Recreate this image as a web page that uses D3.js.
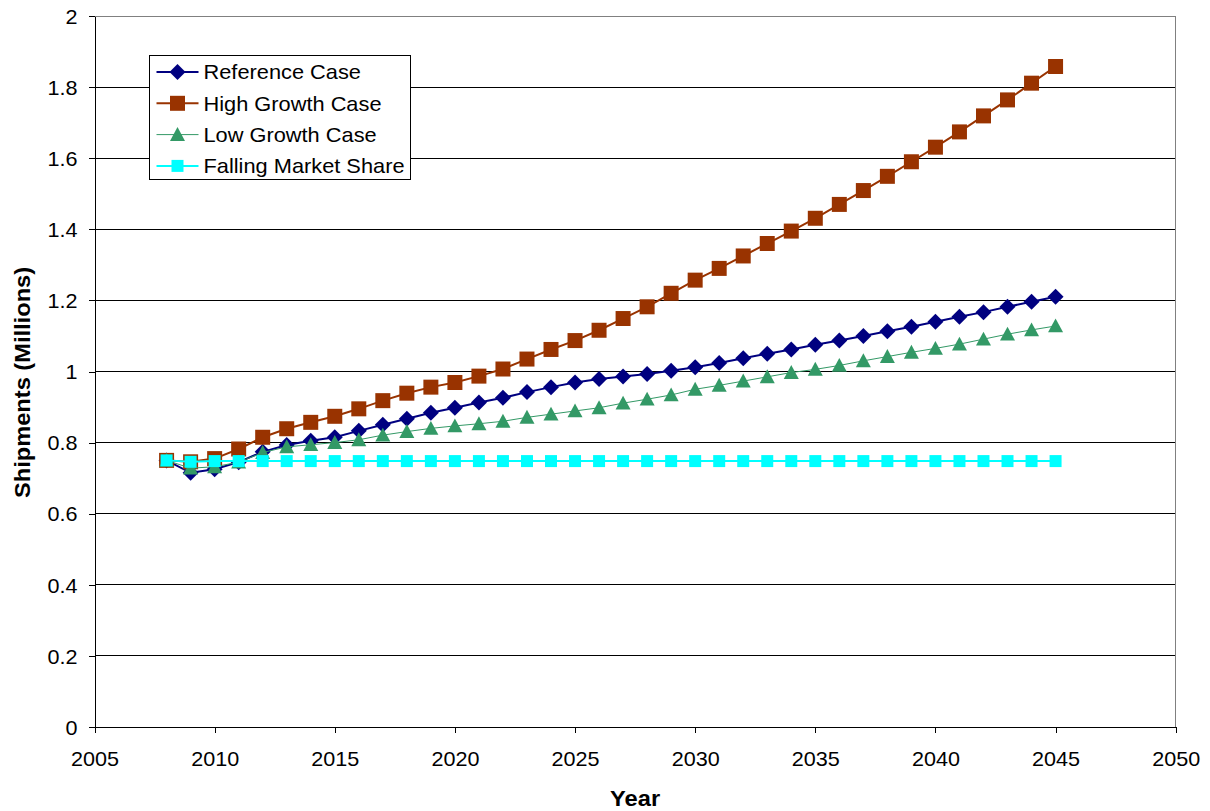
<!DOCTYPE html>
<html>
<head>
<meta charset="utf-8">
<script src="https://cdn.jsdelivr.net/npm/d3@7"></script>
<style>
  body { margin: 0; background: #fff; }
  text { font-family: "Liberation Sans", Arial, sans-serif; }
</style>
</head>
<body>
<script>
var svgWidth = 1210;
var svgHeight = 811;

var margin = { top: 16, right: 34, bottom: 84, left: 94.5 };
var width = 1175.7 - margin.left;
var height = 727 - margin.top;

// data
var years = d3.range(2008, 2046);
var referenceCase = [0.750, 0.715, 0.725, 0.745, 0.774, 0.793, 0.805, 0.815, 0.833, 0.850,
  0.867, 0.884, 0.898, 0.913, 0.926, 0.942, 0.956, 0.969, 0.979, 0.986,
  0.993, 1.002, 1.012, 1.024, 1.037, 1.050, 1.062, 1.075, 1.087, 1.100,
  1.113, 1.126, 1.140, 1.154, 1.167, 1.182, 1.196, 1.210];
var highGrowth = [0.750, 0.746, 0.755, 0.782, 0.815, 0.839, 0.857, 0.874, 0.895, 0.918,
  0.939, 0.956, 0.969, 0.987, 1.007, 1.035, 1.062, 1.087, 1.116, 1.149,
  1.182, 1.220, 1.257, 1.290, 1.325, 1.360, 1.395, 1.431, 1.470, 1.509,
  1.549, 1.590, 1.631, 1.674, 1.719, 1.764, 1.811, 1.858];
var lowGrowth = [0.750, 0.728, 0.732, 0.745, 0.772, 0.788, 0.794, 0.800, 0.808, 0.821,
  0.831, 0.840, 0.847, 0.853, 0.860, 0.871, 0.880, 0.889, 0.898, 0.911,
  0.922, 0.934, 0.950, 0.961, 0.973, 0.985, 0.997, 1.006, 1.017, 1.030,
  1.042, 1.054, 1.065, 1.077, 1.091, 1.105, 1.117, 1.128];
var fallingShare = [0.750, 0.746, 0.748, 0.748, 0.748, 0.748, 0.748, 0.748, 0.748, 0.748,
  0.748, 0.748, 0.748, 0.748, 0.748, 0.748, 0.748, 0.748, 0.748, 0.748,
  0.748, 0.748, 0.748, 0.748, 0.748, 0.748, 0.748, 0.748, 0.748, 0.748,
  0.748, 0.748, 0.748, 0.748, 0.748, 0.748, 0.748, 0.748];

var seriesNames = ["Reference Case", "High Growth Case", "Low Growth Case", "Falling Market Share"];
var xTicks = d3.range(2005, 2051, 5);
var yTicks = d3.range(0, 2.01, 0.2);

var series = [
  { name: seriesNames[0], values: referenceCase, color: "#000080", lw: 2, marker: "diamond", size: 16 },
  { name: seriesNames[1], values: highGrowth, color: "#993300", lw: 2, marker: "square", size: 15 },
  { name: seriesNames[2], values: lowGrowth, color: "#339966", lw: 1, marker: "triangle", size: 15 },
  { name: seriesNames[3], values: fallingShare, color: "#00FFFF", lw: 2, marker: "square", size: 12 }
];

// the original text is a bit wider than Liberation Sans
var stretch = 1.08;

var svg = d3.select("body").append("svg")
  .attr("width", svgWidth)
  .attr("height", svgHeight);

var chartGroup = svg.append("g")
  .attr("transform", `translate(${margin.left}, ${margin.top})`);

var xScale = d3.scaleLinear().domain([2005, 2050]).range([0, width]);
var yScale = d3.scaleLinear().domain([0, 2]).range([height, 0]);

// gridlines
chartGroup.selectAll(".grid")
  .data(yTicks.filter(d => d > 0.01))
  .enter().append("line")
  .attr("x1", 0).attr("x2", width)
  .attr("y1", d => yScale(d)).attr("y2", d => yScale(d))
  .attr("stroke", d => d > 1.99 ? "#808080" : "#000")
  .attr("stroke-width", 1)
  .attr("shape-rendering", "crispEdges");

// right border
chartGroup.append("line")
  .attr("x1", width).attr("x2", width)
  .attr("y1", 0).attr("y2", height)
  .attr("stroke", "#808080")
  .attr("shape-rendering", "crispEdges");

// axes
var bottomAxis = d3.axisBottom(xScale).tickValues(xTicks).tickFormat(d3.format("d")).tickSize(6).tickSizeOuter(0);
var leftAxis = d3.axisLeft(yScale).tickValues(yTicks).tickFormat(d => +d.toFixed(1)).tickSize(6).tickSizeOuter(0);

var xAxis = chartGroup.append("g")
  .attr("transform", `translate(0, ${height})`)
  .call(bottomAxis);
xAxis.selectAll("text")
  .attr("font-size", "20px")
  .attr("y", 0).attr("dy", 0)
  .attr("transform", `translate(0, 39) scale(${stretch}, 1)`)
  .attr("fill", "#000");

var yAxis = chartGroup.append("g").call(leftAxis);
yAxis.selectAll("text")
  .attr("font-size", "20px")
  .attr("x", 0)
  .attr("dy", "0.36em")
  .attr("transform", `translate(-17, 0) scale(${stretch}, 1)`)
  .attr("fill", "#000");

chartGroup.selectAll(".domain, .tick line")
  .attr("stroke", "#000")
  .attr("shape-rendering", "crispEdges");

function markerPath(type, s) {
  var h = s / 2;
  if (type === "diamond") return `M0,${-h}L${h},0L0,${h}L${-h},0Z`;
  if (type === "triangle") return `M0,${-h}L${h},${h * 0.85}L${-h},${h * 0.85}Z`;
  return `M${-h},${-h}H${h}V${h}H${-h}Z`;
}

var line = d3.line()
  .x((d, i) => xScale(years[i]))
  .y(d => yScale(d));

series.forEach(function (s) {
  var g = chartGroup.append("g");
  g.append("path")
    .datum(s.values)
    .attr("fill", "none")
    .attr("stroke", s.color)
    .attr("stroke-width", s.lw)
    .attr("d", line);
  g.selectAll("path.mk")
    .data(s.values)
    .enter().append("path")
    .attr("class", "mk")
    .attr("transform", (d, i) => `translate(${xScale(years[i])}, ${yScale(d)})`)
    .attr("d", markerPath(s.marker, s.size))
    .attr("fill", s.color);
});

// axis titles
svg.append("text")
  .attr("transform", `translate(${margin.left + width / 2}, 806) scale(1.1, 1)`)
  .attr("text-anchor", "middle")
  .attr("font-size", "21.5px")
  .attr("font-weight", "bold")
  .text("Year");

svg.append("text")
  .attr("transform", `translate(30, ${margin.top + height / 2 + 11}) rotate(-90) scale(1.1, 1)`)
  .attr("text-anchor", "middle")
  .attr("font-size", "21.5px")
  .attr("font-weight", "bold")
  .text("Shipments (Millions)");

// legend
var legend = svg.append("g").attr("transform", "translate(149.5, 55.5)");
legend.append("rect")
  .attr("width", 261)
  .attr("height", 124)
  .attr("fill", "#fff")
  .attr("stroke", "#000")
  .attr("stroke-width", 1);

series.forEach(function (s, i) {
  var y = 16.5 + i * 31.3;
  legend.append("line")
    .attr("x1", 7).attr("x2", 49)
    .attr("y1", y).attr("y2", y)
    .attr("stroke", s.color)
    .attr("stroke-width", s.lw);
  legend.append("path")
    .attr("transform", `translate(28, ${y})`)
    .attr("d", markerPath(s.marker, s.size))
    .attr("fill", s.color);
  legend.append("text")
    .attr("transform", `translate(54, ${y}) scale(1.09, 1)`)
    .attr("dy", "0.36em")
    .attr("font-size", "20px")
    .text(s.name);
});
</script>
</body>
</html>
